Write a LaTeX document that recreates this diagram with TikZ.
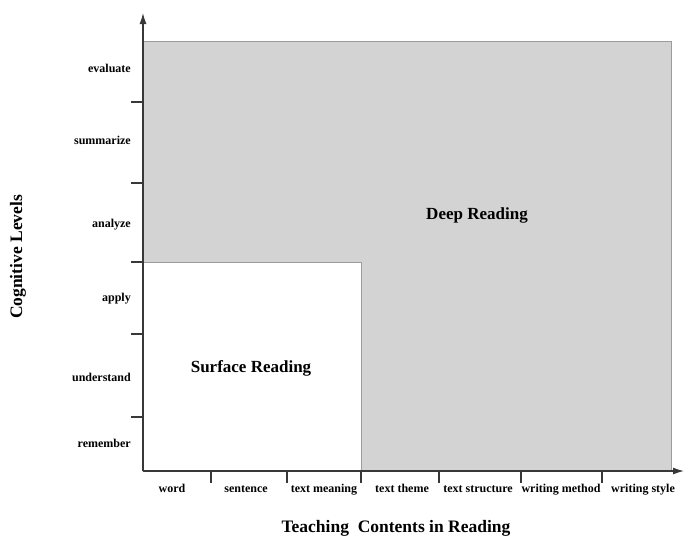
\documentclass[tikz,border=0pt]{standalone}
\usepackage{fontspec}
\setmainfont{Liberation Serif}
\usetikzlibrary{arrows.meta,positioning}
\definecolor{areagray}{HTML}{D3D3D3}
\definecolor{edgegray}{HTML}{9C9C9C}
\definecolor{axisgray}{HTML}{383838}
\tikzset{
  axisline/.style={axisgray, -{Latex[length=11pt,width=7pt]}, line width=1.3pt},
  tickline/.style={axisgray, line width=1.3pt},
  ticklabel/.style={font=\bfseries\fontsize{12}{14}\selectfont, inner sep=0pt},
  levellabel/.style={ticklabel, anchor=base east},
  contentlabel/.style={ticklabel, anchor=base},
  arealabel/.style={font=\bfseries\fontsize{17}{20}\selectfont, inner sep=0pt},
  axistitle/.style={font=\bfseries\fontsize{17.5}{20}\selectfont, inner sep=0pt},
  deeparea/.style={fill=areagray, draw=edgegray, line width=1pt},
  surfacearea/.style={fill=white, draw=edgegray, line width=1pt}
}

\begin{document}
\begin{tikzpicture}[x=1pt,y=-1pt]
  \useasboundingbox (0,0) rectangle (684,539);
  % reading areas
  \draw[deeparea] (143,41) rectangle (671,471);
  \draw[surfacearea] (143,262) rectangle (361,471);
  \node[arealabel] (deep) at (477,215) {Deep Reading};
  \node[arealabel] (surface) at (251,368) {Surface Reading};
  % axes
  \coordinate (origin) at (143,471);
  \coordinate (ytip) at (143,13);
  \coordinate (xtip) at (684,471);
  \draw[axisline] (origin) -- (ytip);
  \draw[axisline] (origin) -- (xtip);
  \foreach \y in {102,183,262,334,417}
    \draw[tickline] (131,\y) -- (143,\y);
  \foreach \x in {211,287,361,439,521,602}
    \draw[tickline] (\x,471) -- (\x,483);
  % cognitive levels
  \foreach \y/\lab in {72/evaluate,144/summarize,227/analyze,301/apply,381/understand,447/remember}
    \node[levellabel] (lev-\lab) at (131,\y) {\lab};
  % teaching contents
  \foreach \x/\lab/\nm in {172/word/word,246/sentence/sentence,324/text meaning/meaning,402/text theme/theme,478/text structure/structure,561/writing method/method,643/writing style/style}
    \node[contentlabel] (con-\nm) at (\x,492) {\lab};
  % axis titles
  \node[axistitle, rotate=90] (ytitle) at (18,257) {Cognitive Levels};
  \node[axistitle] (xtitle) at (396,528) {Teaching\ \ Contents in Reading};
\end{tikzpicture}
\end{document}
